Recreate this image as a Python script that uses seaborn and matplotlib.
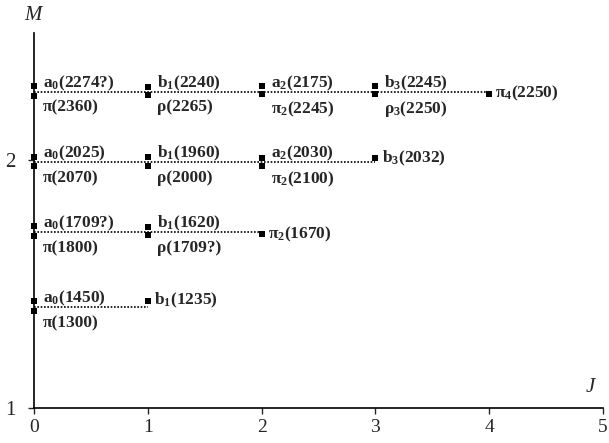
import matplotlib
matplotlib.use('Agg')
import matplotlib.pyplot as plt
import pandas as pd
import seaborn as sns

sns.set_style('ticks')
plt.rcParams['font.family'] = ['Liberation Serif', 'DejaVu Serif']
plt.rcParams['mathtext.fontset'] = 'custom'
plt.rcParams['mathtext.rm'] = 'Liberation Serif:bold'
plt.rcParams['mathtext.it'] = 'Liberation Serif:bold'
plt.rcParams['mathtext.default'] = 'rm'

# trajectory levels (M) and how far in J each dotted line runs
levels = [2.275, 1.990, 1.708, 1.406]
level_end = [4, 3, 2, 1]

# states: J, marker M, label, where the label goes
state_J = [0, 1, 2, 3, 0, 1, 2, 3, 4,
           0, 1, 2, 3, 0, 1, 2,
           0, 1, 0, 1, 2,
           0, 1, 0]
state_M = [2.298, 2.294, 2.298, 2.298, 2.260, 2.262, 2.268, 2.268, 2.268,
           2.012, 2.014, 2.010, 2.008, 1.976, 1.976, 1.976,
           1.734, 1.730, 1.694, 1.696, 1.702,
           1.431, 1.433, 1.391]
state_level = [0, 0, 0, 0, 0, 0, 0, 0, 0,
               1, 1, 1, 1, 1, 1, 1,
               2, 2, 2, 2, 2,
               3, 3, 3]
state_label = ['a$_0$(2274?)', 'b$_1$(2240)', 'a$_2$(2175)', 'b$_3$(2245)',
               'π(2360)', 'ρ(2265)', 'π$_2$(2245)', 'ρ$_3$(2250)', 'π$_4$(2250)',
               'a$_0$(2025)', 'b$_1$(1960)', 'a$_2$(2030)', 'b$_3$(2032)',
               'π(2070)', 'ρ(2000)', 'π$_2$(2100)',
               'a$_0$(1709?)', 'b$_1$(1620)', 'π(1800)', 'ρ(1709?)', 'π$_2$(1670)',
               'a$_0$(1450)', 'b$_1$(1235)', 'π(1300)']
state_pos = ['up', 'up', 'up', 'up', 'down', 'down', 'down', 'down', 'right',
             'up', 'up', 'up', 'right', 'down', 'down', 'down',
             'up', 'up', 'down', 'down', 'right',
             'up', 'right', 'down']

df = pd.DataFrame({'J': state_J, 'M': state_M, 'level': state_level,
                   'label': state_label, 'pos': state_pos})

fig = plt.figure(figsize=(6.09, 4.43), dpi=100)
ax = fig.add_axes([34 / 609, 35 / 443, 569 / 609, 375 / 443])

# dotted trajectory lines
for lev, jmax in zip(levels, level_end):
    ax.plot([0, jmax], [lev, lev], color='black', lw=1.2,
            linestyle=(0, (1, 1)), zorder=2)

sns.scatterplot(data=df, x='J', y='M', marker='s', s=24, color='black',
                edgecolor='black', linewidth=0, ax=ax, zorder=3, legend=False,
                clip_on=False)

fs = 12.5
for _, r in df.iterrows():
    lev = levels[r['level']]
    if r['pos'] == 'up':
        ax.annotate(r['label'], (r['J'], lev), xytext=(6.5, 3.5),
                    textcoords='offset points', va='baseline', ha='left',
                    fontsize=fs, fontweight='bold')
    elif r['pos'] == 'down':
        ax.annotate(r['label'], (r['J'], lev), xytext=(6.5, -5.5),
                    textcoords='offset points', va='top', ha='left',
                    fontsize=fs, fontweight='bold')
    else:
        ax.annotate(r['label'], (r['J'], r['M']), xytext=(4.5, 0),
                    textcoords='offset points', va='center', ha='left',
                    fontsize=fs, fontweight='bold')

ax.set_xlim(0, 5)
ax.set_ylim(1, 1 + 375 / 248)
ax.set_xticks([0, 1, 2, 3, 4, 5])
ax.set_yticks([1, 2])
ax.tick_params(axis='x', direction='out', length=4, width=1, pad=4, labelsize=14)
ax.tick_params(axis='y', direction='out', length=4, width=1, pad=9, labelsize=15)
ax.set_xlabel('')
ax.set_ylabel('')
sns.despine(ax=ax)
for s in ['left', 'bottom']:
    ax.spines[s].set_linewidth(1.2)
    ax.spines[s].set_color('black')

fig.text(33 / 609, 1 - 15 / 443, 'M', style='italic', fontsize=15,
         ha='center', va='center')
fig.text(590 / 609, 1 - 388 / 443, 'J', style='italic', fontsize=15,
         ha='center', va='center')

fig.savefig('out.png', dpi=100)
